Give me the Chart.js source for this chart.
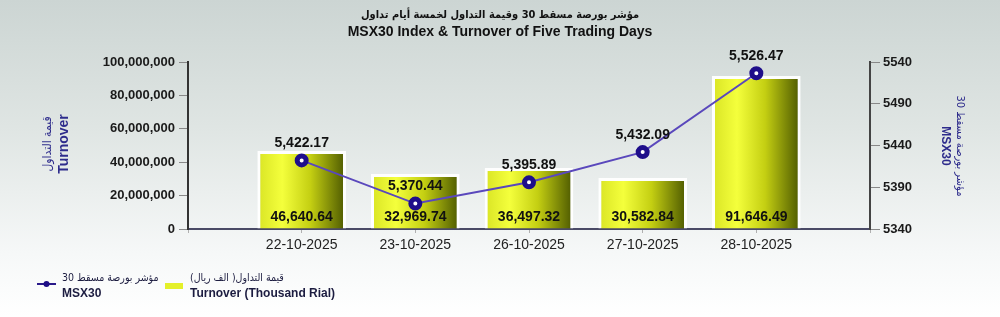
<!DOCTYPE html>
<html>
<head>
<meta charset="utf-8">
<script src="https://cdn.jsdelivr.net/npm/chart.js@4"></script>
<style>
  html, body { margin: 0; padding: 0; }
  body {
    width: 1000px; height: 317px; overflow: hidden;
    background: linear-gradient(to bottom, #ccd5d3 0%, #dfe5e3 40%, #f6f8f8 80%, #ffffff 100%);
  }
  #wrap { position: relative; width: 1000px; height: 317px; }
</style>
</head>
<body>
<div id="wrap"><canvas id="chart" width="1000" height="317"></canvas></div>
<script>
// data
const dates = ["22-10-2025", "23-10-2025", "26-10-2025", "27-10-2025", "28-10-2025"];
const turnoverThousandRial = [46640.64, 32969.74, 36497.32, 30582.84, 91646.49];
const msx30 = [5422.17, 5370.44, 5395.89, 5432.09, 5526.47];
const leftTicks = [0, 20000000, 40000000, 60000000, 80000000, 100000000];
const rightTicks = [5340, 5390, 5440, 5490, 5540];

const titleLines = ["مؤشر بورصة مسقط 30 وقيمة التداول لخمسة أيام تداول", "MSX30 Index & Turnover of Five Trading Days"];

// one empty slot each side, like the original
const labels = ["", ...dates, ""];
const barData = [null, ...turnoverThousandRial.map(v => v * 1000), null];
const lineData = [null, ...msx30, null];

const fmt = (v, d) => v.toLocaleString("en-US", { minimumFractionDigits: d, maximumFractionDigits: d });
const AR = "'DejaVu Sans Condensed', 'DejaVu Sans', sans-serif";
const LAT = "'Liberation Sans', Arial, sans-serif";

function barGradient(context) {
    const chart = context.chart;
    const x = chart.scales.x;
    if (!x || context.type !== "data") return "#e8f020";
    const cx = x.getPixelForValue(context.dataIndex);
    if (!isFinite(cx)) return "#e8f020";
    const half = 44;
    const g = chart.ctx.createLinearGradient(cx - half, 0, cx + half, 0);
    g.addColorStop(0, "#d9e425");
    g.addColorStop(0.28, "#f4ff3c");
    g.addColorStop(0.6, "#c4cf12");
    g.addColorStop(1, "#4c5800");
    return g;
}

const extras = {
    id: "extras",
    afterDatasetsDraw(chart) {
        const { ctx } = chart;
        ctx.save();
        ctx.fillStyle = "#111";
        ctx.textAlign = "center";
        ctx.textBaseline = "middle";
        ctx.font = "bold 14px " + LAT;

        // bar values at the bottom of each bar
        const barMeta = chart.getDatasetMeta(0);
        barMeta.data.forEach((el, i) => {
            if (barData[i] == null) return;
            ctx.fillText(fmt(barData[i] / 1000, 2), el.x, el.base - 11);
        });

        // index values above points
        const lineMeta = chart.getDatasetMeta(1);
        lineMeta.data.forEach((el, i) => {
            if (lineData[i] == null) return;
            ctx.fillText(fmt(lineData[i], 2), el.x, el.y - 17);
        });
        ctx.restore();
    },
    afterDraw(chart) {
        const { ctx } = chart;
        ctx.save();

        // title
        ctx.fillStyle = "#111";
        ctx.textAlign = "center";
        ctx.textBaseline = "middle";
        ctx.direction = "rtl";
        ctx.font = "bold 11px " + AR;
        ctx.fillText(titleLines[0], 500, 15);
        ctx.direction = "ltr";
        ctx.font = "bold 14px " + LAT;
        ctx.fillText(titleLines[1], 500, 32);

        // left axis title
        ctx.fillStyle = "#2e2c8c";
        ctx.save();
        ctx.translate(56, 144);
        ctx.rotate(-Math.PI / 2);
        ctx.direction = "rtl";
        ctx.font = "12px " + AR;
        ctx.fillText("قيمة التداول", 0, -8);
        ctx.direction = "ltr";
        ctx.font = "bold 14px " + LAT;
        ctx.fillText("Turnover", 0, 8);
        ctx.restore();

        // right axis title
        ctx.save();
        ctx.translate(952, 146);
        ctx.rotate(Math.PI / 2);
        ctx.direction = "rtl";
        ctx.font = "11px " + AR;
        ctx.fillText("مؤشر بورصة مسقط 30", 0, -8);
        ctx.direction = "ltr";
        ctx.font = "bold 12px " + LAT;
        ctx.fillText("MSX30", 0, 7);
        ctx.restore();

        // legend
        ctx.strokeStyle = "#2a1a8a";
        ctx.lineWidth = 2;
        ctx.beginPath();
        ctx.moveTo(37, 284);
        ctx.lineTo(56, 284);
        ctx.stroke();
        ctx.fillStyle = "#1e0e86";
        ctx.beginPath();
        ctx.arc(46.5, 284, 3, 0, Math.PI * 2);
        ctx.fill();

        ctx.fillStyle = "#e4f02a";
        ctx.fillRect(165, 283, 18, 6);

        ctx.fillStyle = "#1c1c40";
        ctx.textAlign = "left";
        ctx.direction = "rtl";
        ctx.font = "10.5px " + AR;
        ctx.fillText("مؤشر بورصة مسقط 30", 62, 278);
        ctx.fillText("قيمة التداول( الف ريال)", 190, 278);
        ctx.direction = "ltr";
        ctx.font = "bold 12px " + LAT;
        ctx.fillText("MSX30", 62, 294);
        ctx.fillText("Turnover (Thousand Rial)", 190, 294);
        ctx.restore();
    }
};

const chart = new Chart(document.getElementById("chart"), {
    data: {
        labels: labels,
        datasets: [{
            type: "bar",
            label: "Turnover (Thousand Rial)",
            data: barData,
            yAxisID: "y",
            order: 1,
            backgroundColor: barGradient,
            borderColor: "rgba(255,255,255,0.95)",
            borderWidth: 3,
            borderSkipped: "bottom",
            categoryPercentage: 1,
            barPercentage: 0.78
        }, {
            type: "line",
            label: "MSX30",
            data: lineData,
            yAxisID: "y1",
            order: 0,
            borderColor: "#5a48bc",
            borderWidth: 2,
            pointRadius: 4.5,
            pointHoverRadius: 4.5,
            pointBackgroundColor: "#ffffff",
            pointBorderColor: "#1e0e8a",
            pointBorderWidth: 5,
            tension: 0
        }]
    },
    options: {
        responsive: false,
        animation: false,
        layout: { padding: { top: 62, left: 0, right: 0, bottom: 0 } },
        plugins: { legend: { display: false }, tooltip: { enabled: false } },
        scales: {
            x: {
                type: "category",
                offset: false,
                afterFit(scale) { scale.height = 88; },
                grid: { offset: false, drawOnChartArea: false, tickLength: 4, color: "#b0b0b0" },
                border: { color: "#4a4a66", width: 2 },
                ticks: {
                    autoSkip: false,
                    maxRotation: 0,
                    padding: 4,
                    color: "#222",
                    font: { family: LAT, size: 14 }
                }
            },
            y: {
                position: "left",
                min: leftTicks[0],
                max: leftTicks[leftTicks.length - 1],
                afterFit(scale) { scale.width = 188; },
                afterBuildTicks(scale) { scale.ticks = leftTicks.map(v => ({ value: v })); },
                grid: { drawOnChartArea: false, tickLength: 9, color: "#888" },
                border: { color: "#333", width: 2 },
                ticks: {
                    padding: 4,
                    color: "#1a1a1a",
                    font: { family: LAT, size: 13, weight: "bold" },
                    callback: v => fmt(v, 0)
                }
            },
            y1: {
                position: "right",
                min: rightTicks[0],
                max: rightTicks[rightTicks.length - 1],
                afterFit(scale) { scale.width = 130; },
                afterBuildTicks(scale) { scale.ticks = rightTicks.map(v => ({ value: v })); },
                grid: { drawOnChartArea: false, tickLength: 10, color: "#888" },
                border: { color: "#444", width: 2 },
                ticks: {
                    padding: 3,
                    color: "#1a1a1a",
                    font: { family: LAT, size: 13, weight: "bold" },
                    callback: v => String(v)
                }
            }
        }
    },
    plugins: [extras]
});
chart.update();
</script>
</body>
</html>
